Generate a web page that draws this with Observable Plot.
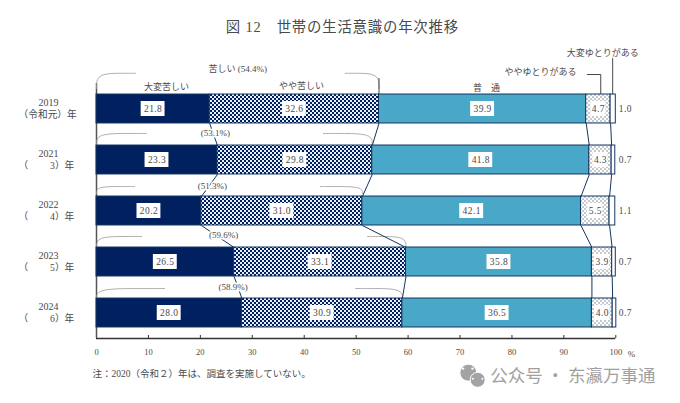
<!DOCTYPE html>
<html><head><meta charset="utf-8">
<script src="https://cdn.jsdelivr.net/npm/d3@7"></script>
<script src="https://cdn.jsdelivr.net/npm/@observablehq/plot@0.6"></script>
<style>html,body{margin:0;padding:0;background:#fff}
.wide text{letter-spacing:.8px}.val text{letter-spacing:.4px}</style>
</head><body><div id="chart"></div>
<script>
const years = ["2019","2021","2022","2023","2024"];
const eras = ["（令和元）年","（　　 3）年","（　　 4）年","（　　 5）年","（　　 6）年"];
const cats = ["大変苦しい","やや苦しい","普通","ややゆとりがある","大変ゆとりがある"];
const severe = [21.8,23.3,20.2,26.5,28.0];
const somewhat = [32.6,29.8,31.0,33.1,30.9];
const normal = [39.9,41.8,42.1,35.8,36.5];
const someRoom = [4.7,4.3,5.5,3.9,4.0];
const muchRoom = [1.0,0.7,1.1,0.7,0.7];
const seriesValues = [severe,somewhat,normal,someRoom,muchRoom];
const fills = ["#00205f","url(#checks)","#49a8c8","url(#dots)","#ffffff"];
const hardTotals = ["(53.1%)","(51.3%)","(59.6%)","(58.9%)"];
const hardTotalX = [22.9,22.3,24.5,26.3];
const hardTotalY = [0.48,1.52,2.48,3.5];
const bracketLeftEnd = [7.5,9.6,7.3,8.7,13.1];
const bracketRightStart = [47.9,43.7,43.1,52.2,49.9];
const bracketRightEnd = [54.4,53.1,51.2,59.6,58.9];
const bracketTop = [-0.70,0.48,1.52,2.5,3.52];
const bracketBase = [-0.40,0.70,1.66,2.72,3.72];
const boxHalfWidth = [2.3,2.3,2.3,1.45];
const xTicks = d3.range(0,101,10);
const halfBar = 0.284, halfBox = 0.147;
const serif = '"Liberation Serif","Noto Sans CJK JP",serif';
const ink = "#4a4a4a", navy = "#14355f", thin = "#9a9a9a";

const segments = [];
const boundaries = cats.slice(0,4).map(() => []);
years.forEach((y,i) => {
  let start = 0;
  cats.forEach((c,j) => {
    const v = seriesValues[j][i], end = start + v;
    segments.push({cat:c, row:i, j, value:v, x1:start, x2:end, mid:(start+end)/2});
    if (j < 4) boundaries[j].push(end);
    start = end;
  });
});
const connectors = boundaries.flatMap(b => d3.pairs(b).map(([a,c],i) => ({x1:a, x2:c, y1:i+halfBar, y2:i+1-halfBar})));
const inner = segments.filter(d => d.j < 4);
const outer = segments.filter(d => d.j === 4);
const rowsIdx = d3.range(years.length);

const arcs = rowsIdx.flatMap(i => [
  {id:"L"+i,x:0,y:bracketBase[i]},{id:"L"+i,x:0,y:bracketTop[i]},
  {id:"L"+i,x:bracketLeftEnd[i]*0.7,y:bracketTop[i]},{id:"L"+i,x:bracketLeftEnd[i],y:bracketTop[i]},
  {id:"R"+i,x:bracketRightStart[i],y:bracketTop[i]},
  {id:"R"+i,x:bracketRightEnd[i]-(bracketRightEnd[i]-bracketRightStart[i])*0.7,y:bracketTop[i]},
  {id:"R"+i,x:bracketRightEnd[i],y:bracketTop[i]},{id:"R"+i,x:bracketRightEnd[i],y:bracketBase[i]}
]);
const leaders = [
  {id:"a",x:94.5,y:-0.676},{id:"a",x:97.1,y:-0.676},{id:"a",x:97.1,y:-halfBar},
  {id:"b",x:99.4,y:-0.99},{id:"b",x:99.4,y:-halfBar},
  {id:"c",x:54.4,y:-0.6},{id:"c",x:54.4,y:-halfBar}
];
const headers = [
  {t:"苦しい (54.4%)",x:27.2,y:-0.775},{t:"大変苦しい",x:13.5,y:-0.42},{t:"やや苦しい",x:39.5,y:-0.44},
  {t:"普　通",x:75.1,y:-0.40},{t:"ややゆとりがある",x:85.5,y:-0.715},{t:"大変ゆとりがある",x:97.5,y:-1.09},
  {t:"%",x:103,y:4.81}
];
const txt = (extra) => ({text:"t",x:"x",y:"y",fill:ink,fontSize:9,...extra});

const chart = Plot.plot({
  width:680, height:403,
  marginLeft:96, marginRight:64.7, marginTop:83, marginBottom:65,
  style:{fontFamily:serif, background:"#fff"},
  x:{domain:[0,100]},
  y:{domain:[-0.5,4.5], reverse:true, axis:null},
  color:{domain:cats, range:fills},
  r:{type:"identity"},
  marks:[
    Plot.axisX({ticks:xTicks, tickFormat:d=>d, tickSize:-3, tickPadding:13, fontSize:8.5, stroke:"#333", fill:ink, label:null}),
    Plot.ruleX([0],{stroke:"#555",strokeWidth:1.5}),
    Plot.ruleY([4.5],{stroke:"#333",strokeWidth:1.3}),
    Plot.line(arcs,{x:"x",y:"y",z:"id",curve:"basis",stroke:thin,strokeWidth:0.8}),
    Plot.line(leaders,{x:"x",y:"y",z:"id",stroke:"#333",strokeWidth:0.9}),
    Plot.link(connectors,{x1:"x1",x2:"x2",y1:"y1",y2:"y2",stroke:navy,strokeWidth:1}),
    Plot.rect(segments,{x1:"x1",x2:"x2",y1:d=>d.row-halfBar,y2:d=>d.row+halfBar,fill:"cat",stroke:navy,strokeWidth:1}),
    Plot.rect(inner,{x1:d=>d.mid-boxHalfWidth[d.j],x2:d=>d.mid+boxHalfWidth[d.j],y1:d=>d.row-halfBox,y2:d=>d.row+halfBox,fill:"#fff"}),
    Plot.text(inner,{x:"mid",y:"row",text:d=>d.value.toFixed(1),fill:ink,fontSize:9.5,className:"val"}),
    Plot.text(outer,{x:100,y:"row",text:d=>d.value.toFixed(1),dx:3,textAnchor:"start",fill:ink,fontSize:9.5,className:"val"}),
    Plot.text(rowsIdx,{x:-9.24,y:i=>i-0.13,text:i=>years[i],fill:ink,fontSize:10}),
    Plot.text(rowsIdx,{x:-15,y:i=>i+0.12,text:i=>eras[i],textAnchor:"start",fill:ink,fontSize:9.7}),
    Plot.text(hardTotals,{x:(d,i)=>hardTotalX[i],y:(d,i)=>hardTotalY[i],text:d=>d,fill:ink,fontSize:9,stroke:"#fff",strokeWidth:3}),
    Plot.text(headers,txt({})),
    Plot.text([{t:"図 12　世帯の生活意識の年次推移",x:47.35,y:-1.6}],txt({fontSize:14.4,className:"wide"})),
    Plot.text([{t:"注：2020（令和２）年は、調査を実施していない。",x:-0.77,y:5.19}],txt({fontSize:9.5,textAnchor:"start"})),
    // watermark
    Plot.dot([{x:71.6,y:5.17,r:8.5},{x:73.4,y:5.31,r:7.5}],{x:"x",y:"y",r:"r",fill:"#a3a3a3",stroke:"#fff",strokeWidth:1}),
    Plot.dot([{x:70.6,y:5.09,r:1.2},{x:72.4,y:5.09,r:1.2},{x:72.5,y:5.29,r:1},{x:74.3,y:5.29,r:1}],{x:"x",y:"y",r:"r",fill:"#fff"}),
    Plot.text([{t:"公众号 · 东瀛万事通",x:75.8,y:5.245}],{text:"t",x:"x",y:"y",textAnchor:"start",fill:"#a0a0a0",fontSize:17.5,fontFamily:'"Noto Sans CJK SC"'})
  ]
});
const svg = d3.select(chart);
const defs = svg.insert("defs",":first-child");
const checks = defs.append("pattern").attr("id","checks").attr("patternUnits","userSpaceOnUse").attr("width",4).attr("height",4);
checks.append("rect").attr("width",4).attr("height",4).attr("fill","#e8eef5");
checks.append("rect").attr("width",2).attr("height",2).attr("fill","#00205f");
checks.append("rect").attr("x",2).attr("y",2).attr("width",2).attr("height",2).attr("fill","#00205f");
const dots = defs.append("pattern").attr("id","dots").attr("patternUnits","userSpaceOnUse").attr("width",4).attr("height",4);
dots.append("rect").attr("width",4).attr("height",4).attr("fill","#fff");
dots.append("rect").attr("x",0.5).attr("y",0.5).attr("width",1).attr("height",1).attr("fill","#1a2a44");
dots.append("rect").attr("x",2.5).attr("y",2.5).attr("width",1).attr("height",1).attr("fill","#1a2a44");
document.getElementById("chart").appendChild(chart);
</script></body></html>
